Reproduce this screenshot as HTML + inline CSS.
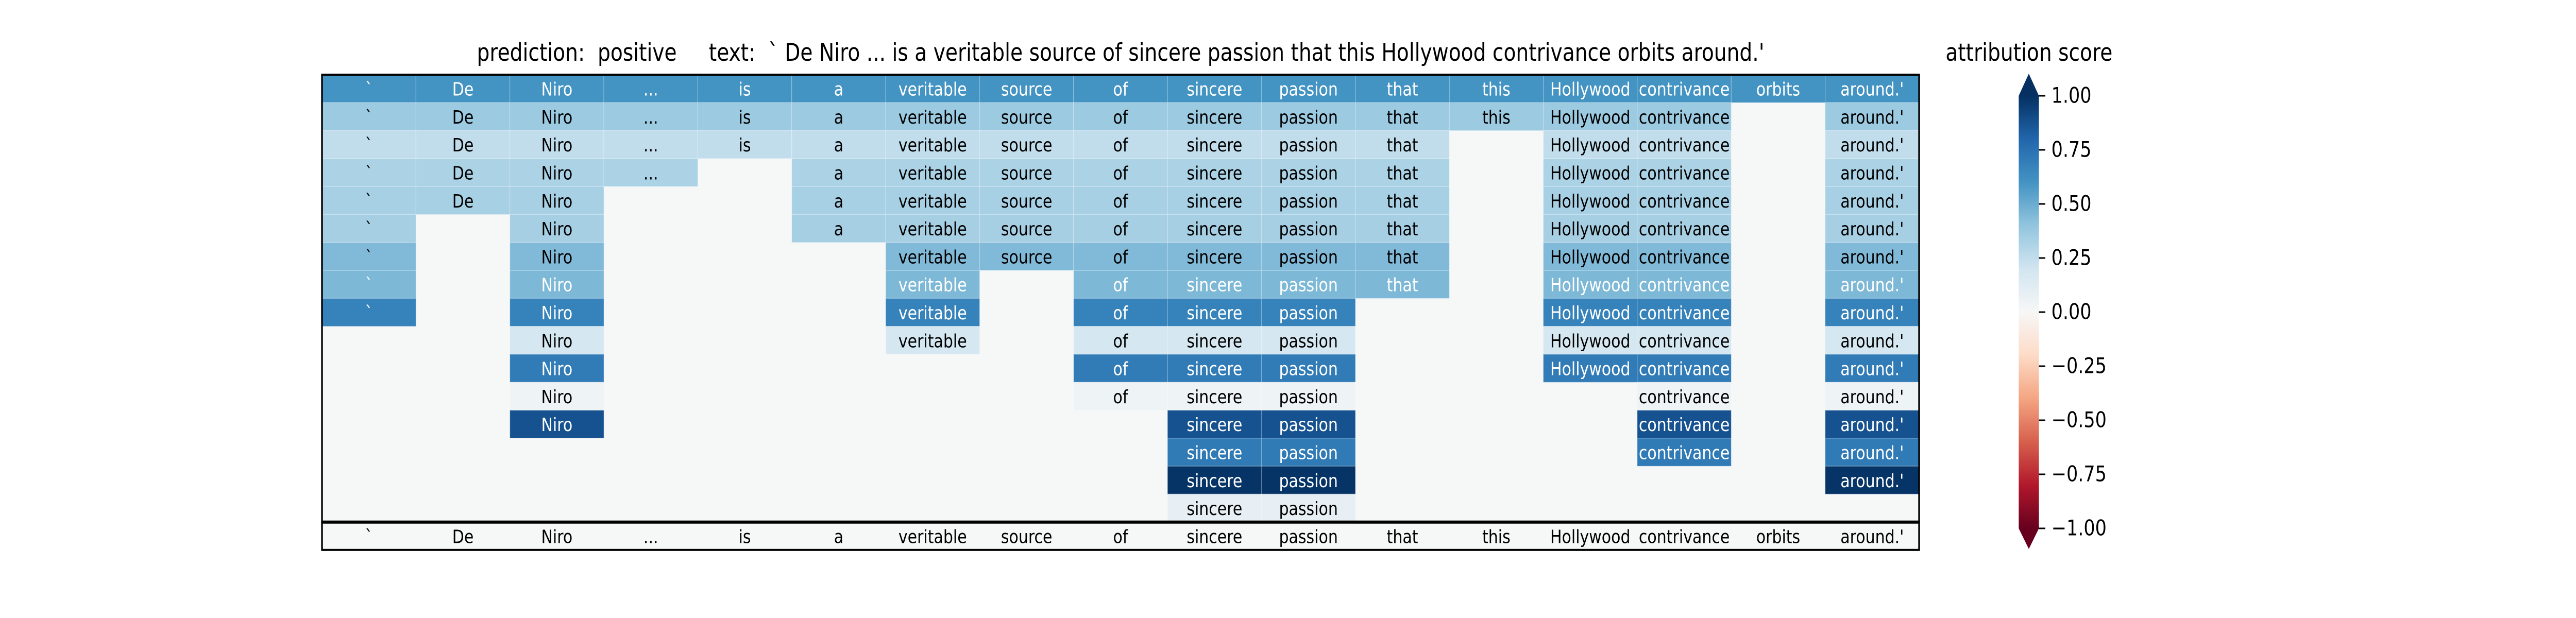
<!DOCTYPE html>
<html><head><meta charset="utf-8">
<style>
html,body{margin:0;padding:0;background:#fff;width:100%;height:100%;overflow:hidden;}
svg{display:block;font-family:"DejaVu Sans","Liberation Sans",sans-serif;width:100vw;height:100vh;}
</style></head>
<body>
<svg id="chart" viewBox="0 0 6000 1200" preserveAspectRatio="none" xmlns="http://www.w3.org/2000/svg">
<rect x="0" y="0" width="6000" height="1200" fill="#ffffff"/>
<text x="2610" y="118" font-size="47" text-anchor="middle" xml:space="preserve">prediction:  positive     text:  ` De Niro ... is a veritable source of sincere passion that this Hollywood contrivance orbits around.'</text>
<g id="cells"></g>
<g id="bottom"></g>
<g id="cbar"></g>
</svg>
<script>
// ---- data ----
const tokens = ["`","De","Niro","...","is","a","veritable","source","of","sincere","passion","that","this","Hollywood","contrivance","orbits","around.'"];
const rowValues = [0.60,0.37,0.25,0.32,0.33,0.335,0.443,0.453,0.676,0.18,0.707,0.047,0.874,0.71,0.985,0.084];
const rowTokens = [
 [0,1,2,3,4,5,6,7,8,9,10,11,12,13,14,15,16],
 [0,1,2,3,4,5,6,7,8,9,10,11,12,13,14,16],
 [0,1,2,3,4,5,6,7,8,9,10,11,13,14,16],
 [0,1,2,3,5,6,7,8,9,10,11,13,14,16],
 [0,1,2,5,6,7,8,9,10,11,13,14,16],
 [0,2,5,6,7,8,9,10,11,13,14,16],
 [0,2,6,7,8,9,10,11,13,14,16],
 [0,2,6,8,9,10,11,13,14,16],
 [0,2,6,8,9,10,13,14,16],
 [2,6,8,9,10,13,14,16],
 [2,8,9,10,13,14,16],
 [2,8,9,10,14,16],
 [2,9,10,14,16],
 [9,10,14,16],
 [9,10,16],
 [9,10]
];
const cbarTicks = [1.00,0.75,0.50,0.25,0.00,-0.25,-0.50,-0.75,-1.00];
const cmapStops = ["#67001f","#b2182b","#d6604d","#f4a582","#fddbc7","#f7f7f7","#d1e5f0","#92c5de","#4393c3","#2166ac","#053061"];

// ---- layout ----
const NS="http://www.w3.org/2000/svg";
const X0=750, X1=4470, Y0=145, ROWH=54.3;
const nRows=rowValues.length;
const cw=(X1-X0)/tokens.length;
const xOf=i=>X0+i*cw;
const yOf=r=>Y0+r*ROWH;
const heatBottom=yOf(nRows);
const CB_X=4702, CB_W=47, CB_TOP=186, CB_BOT=1026;
const cbY=v=>CB_TOP+(1-v)/2*(CB_BOT-CB_TOP);

function hex(c){return [1,3,5].map(i=>parseInt(c.substr(i,2),16));}
function cmap(v){
  let t=(Math.max(-1,Math.min(1,v))+1)/2*(cmapStops.length-1);
  let i=Math.min(Math.floor(t),cmapStops.length-2), f=t-i;
  const a=hex(cmapStops[i]), b=hex(cmapStops[i+1]);
  return "rgb("+a.map((x,k)=>Math.round(x+(b[k]-x)*f)).join(",")+")";
}
function mk(tag,attrs,parent){const e=document.createElementNS(NS,tag);for(const k in attrs)e.setAttribute(k,attrs[k]);parent.appendChild(e);return e;}

const cells=document.getElementById('cells');
mk('rect',{x:X0,y:Y0,width:X1-X0,height:heatBottom-Y0,fill:"#f6f7f7"},cells);
rowValues.forEach((v,r)=>{
  rowTokens[r].forEach(ti=>{
    const rc=mk('rect',{x:xOf(ti),y:yOf(r),width:cw,height:ROWH,fill:cmap(v),stroke:"rgba(255,255,255,0.25)","stroke-width":1.5},cells);
    
    
    const t=mk('text',{x:xOf(ti)+cw/2,y:yOf(r)+ROWH/2+1,"font-size":36,"text-anchor":"middle","dominant-baseline":"central",fill:v>0.45?"#ffffff":"#000000"},cells);
    
    
    t.textContent=tokens[ti];
  });
});
mk('rect',{x:X0,y:Y0,width:X1-X0,height:heatBottom-Y0,fill:"none",stroke:"#000","stroke-width":4},cells);

const bottom=document.getElementById('bottom');
const BH=54;
mk('rect',{x:X0,y:heatBottom,width:X1-X0,height:BH,fill:"#f6f7f7",stroke:"#000","stroke-width":4},bottom);
mk('line',{x1:X0,x2:X1,y1:heatBottom,y2:heatBottom,stroke:"#000","stroke-width":6},bottom);
tokens.forEach((tk,i)=>{
  const t=mk('text',{x:xOf(i)+cw/2,y:heatBottom+BH/2+1,"font-size":36,"text-anchor":"middle","dominant-baseline":"central",fill:"#000"},bottom);
  
  
  t.textContent=tk;
});

// ---- colorbar ----
const cb=document.getElementById('cbar');
const defs=mk('defs',{},cb);
const grad=mk('linearGradient',{id:"rdbu",x1:0,y1:1,x2:0,y2:0},defs);
cmapStops.forEach((c,i)=>mk('stop',{offset:i/(cmapStops.length-1),"stop-color":c},grad));
mk('rect',{x:CB_X,y:CB_TOP,width:CB_W,height:CB_BOT-CB_TOP,fill:"url(#rdbu)"},cb);
mk('polygon',{points:`${CB_X},${CB_TOP} ${CB_X+CB_W},${CB_TOP} ${CB_X+CB_W/2},143`,fill:cmap(1)},cb);
mk('polygon',{points:`${CB_X},${CB_BOT} ${CB_X+CB_W},${CB_BOT} ${CB_X+CB_W/2},1066`,fill:cmap(-1)},cb);
cbarTicks.forEach(v=>{
  const y=cbY(v);
  const l=mk('line',{x1:CB_X+CB_W,x2:CB_X+CB_W+15,y1:y,y2:y,stroke:"#000","stroke-width":3},cb);
  
  
  const t=mk('text',{x:4778,y:y,"font-size":42,"dominant-baseline":"central",fill:"#000"},cb);
  
  
  t.textContent=(v<0?"\u2212":"")+Math.abs(v).toFixed(2);
});
const ct=mk('text',{x:4726,y:118,"font-size":47,"text-anchor":"middle",fill:"#000"},cb);


ct.textContent="attribution score";
</script>
</body></html>
